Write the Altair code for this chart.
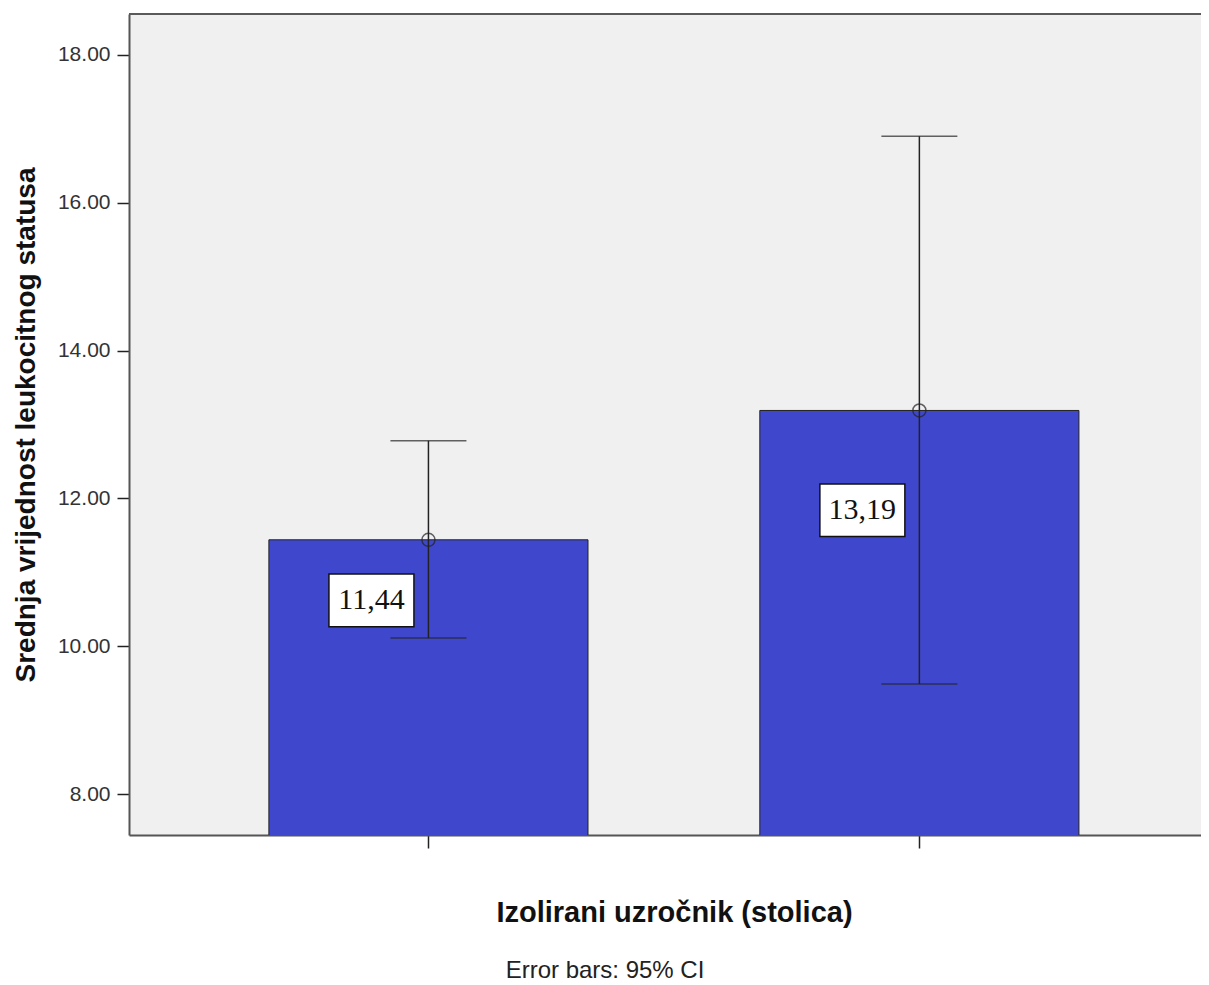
import altair as alt
import pandas as pd

categories = ["A", "B"]
means = [11.44, 13.19]
ci_low = [10.11, 9.49]
ci_high = [12.78, 16.90]
label_text = ["11,44", "13,19"]
label_y = [10.62, 11.84]
y_ticks = [8, 10, 12, 14, 16, 18]

df = pd.DataFrame({
    "cat": categories,
    "mean": means,
    "lo": ci_low,
    "hi": ci_high,
    "label": label_text,
    "ly": label_y,
})

x_scale = alt.Scale(paddingInner=0.35, paddingOuter=0.2668, align=0.534)
y_scale = alt.Scale(domain=[7.446, 18.554], zero=False, nice=False)

x_enc = alt.X(
    "cat:N", scale=x_scale, sort=categories,
    axis=alt.Axis(
        title="Izolirani uzročnik (stolica)", labels=False, tickSize=13,
        tickColor="#222", domainColor="#555", domainWidth=2, tickWidth=1.5,
        titleFontSize=29, titleFont="Liberation Sans", titleFontWeight="bold",
        titleColor="#111", titlePadding=50, titleX=545, titleAlign="center",
        titleAnchor="start",
    ),
)

bars = alt.Chart(df).mark_bar(
    fill="#3F48CC", stroke="#222", strokeWidth=1, clip=True
).encode(
    x=x_enc,
    y=alt.Y(
        "mean:Q", scale=y_scale,
        axis=alt.Axis(
            title="Srednja vrijednost leukocitnog statusa", values=y_ticks,
            format=".2f", labelFontSize=21, labelFont="Liberation Sans",
            labelColor="#333", tickSize=12, tickColor="#222", tickWidth=1.5,
            labelPadding=7, domainColor="#555", domainWidth=2, grid=False,
            titleFontSize=28, titleFont="Liberation Sans",
            titleFontWeight="bold", titleColor="#111", titlePadding=17,
        ),
    ),
)

top_border = alt.Chart(pd.DataFrame({"k": [0]})).mark_rule(
    color="#5a5a5a", strokeWidth=2
).encode(x=alt.value(0), x2=alt.value(1072), y=alt.value(0))

rule = alt.Chart(df).mark_rule(color="#222", strokeWidth=1.5).encode(
    x=alt.X("cat:N", sort=categories), y="lo:Q", y2="hi:Q"
)
cap_lo = alt.Chart(df).mark_tick(color="#222", size=76, thickness=1.5).encode(
    x=alt.X("cat:N", sort=categories), y="lo:Q"
)
cap_hi = alt.Chart(df).mark_tick(color="#222", size=76, thickness=1.5).encode(
    x=alt.X("cat:N", sort=categories), y="hi:Q"
)
dot = alt.Chart(df).mark_point(
    shape="circle", filled=False, size=170, stroke="#222", strokeWidth=1.5
).encode(x=alt.X("cat:N", sort=categories), y="mean:Q")

box = alt.Chart(df).mark_point(
    shape="M-1,-0.62L1,-0.62L1,0.62L-1,0.62Z", size=7225, filled=True,
    fill="white", fillOpacity=1, stroke="#111", strokeWidth=1.5, opacity=1,
    xOffset=-57,
).encode(x=alt.X("cat:N", sort=categories), y="ly:Q")
txt = alt.Chart(df).mark_text(
    font="Liberation Serif", fontSize=30, color="#111", xOffset=-57,
    baseline="middle", align="center",
).encode(x=alt.X("cat:N", sort=categories), y="ly:Q", text="label:N")

note = alt.Chart(pd.DataFrame({"t": ["Error bars: 95% CI"]})).mark_text(
    font="Liberation Sans", fontSize=24, color="#222", align="center",
    baseline="alphabetic",
).encode(x=alt.value(476), y=alt.value(964), text="t:N")

chart = alt.layer(
    bars, top_border, rule, cap_lo, cap_hi, dot, box, txt, note
).properties(
    width=1072, height=821,
    autosize=alt.AutoSizeParams(type="none"),
    padding={"left": 121, "top": 6, "right": 0, "bottom": 150},
    background="white",
).configure_view(
    fill="#F0F0F0", strokeWidth=0
)

chart.save("out.html", embed_options={"renderer": "svg", "actions": False})
